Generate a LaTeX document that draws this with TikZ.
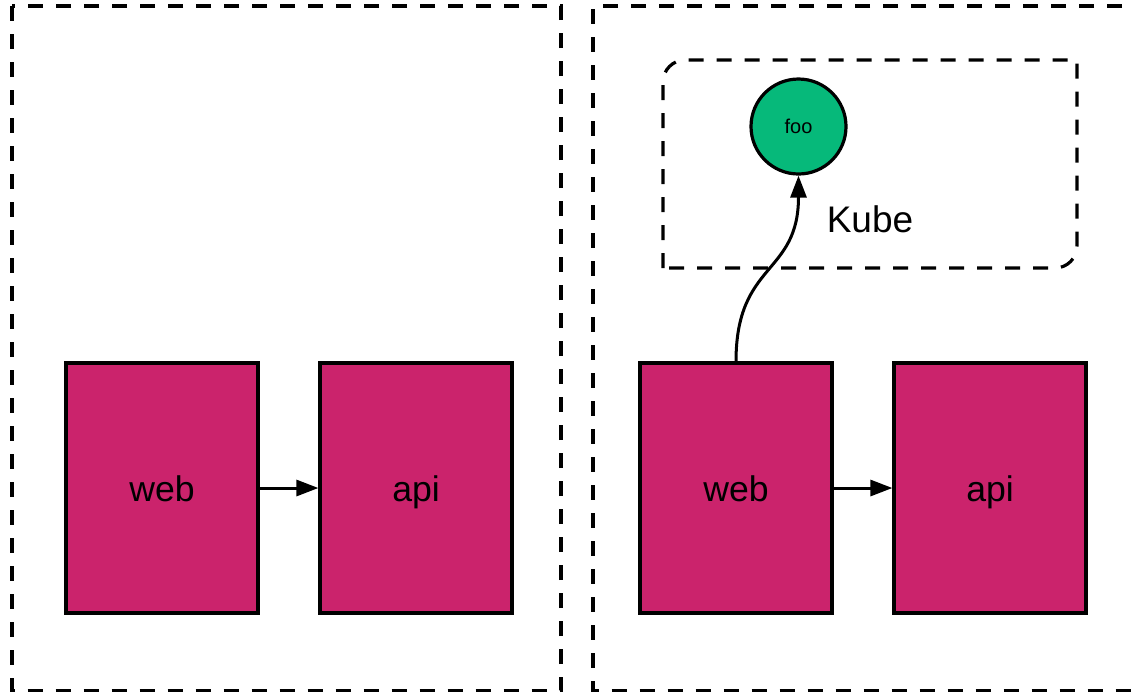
\documentclass[tikz,border=0pt]{standalone}
\usepackage{fontspec}
\setmainfont{Liberation Sans}
\usetikzlibrary{arrows.meta}
\definecolor{svcpink}{HTML}{CB236C}
\definecolor{foogreen}{HTML}{06B97A}
\tikzset{
  dashbox/.style={draw=black, line width=1.6pt, dash pattern=on 7.5pt off 6.5pt},
  svc/.style={draw=black, fill=svcpink, line width=1.6pt, minimum width=96pt, minimum height=125pt, inner sep=0pt, text height=13pt, text depth=0pt, font=\fontsize{17.8}{21}\selectfont},
  conn/.style={line width=1.5pt, -{Triangle[length=11pt,width=8pt]}},
}
\begin{document}
\begin{tikzpicture}[x=0.5pt,y=-0.5pt]
\useasboundingbox (0,0) rectangle (1134,693);
% outer dashed regions
\draw[dashbox] (12,6) rectangle (561,690.5);
\draw[dashbox] (1150,6) -- (593,6) -- (593,690.5) -- (1150,690.5);
% Kube box: rounded at top-left and bottom-right
\draw[dashbox] (663,268) -- (663,82) arc[start angle=180, end angle=90, radius=11pt]
  -- (1077,60) -- (1077,246) arc[start angle=0, end angle=-90, radius=11pt] -- cycle;
\node[font=\fontsize{18.5}{22}\selectfont] (kube) at (870,219) {Kube};
% services
\node[svc] (web1) at (162,488) {web};
\node[svc] (api1) at (416,488) {api};
\node[svc] (web2) at (736,488) {web};
\node[svc] (api2) at (990,488) {api};
% foo
\node[circle, draw=black, fill=foogreen, line width=1.6pt, minimum size=47.5pt, inner sep=0pt, font=\fontsize{10}{12}\selectfont] (foo) at (798.5,126.5) {foo};
% connectors
\draw[conn] (web1.east) -- (api1.west);
\draw[conn] (web2.east) -- (api2.west);
\draw[conn] (web2.north) .. controls +(0,-100) and +(0,100) .. (foo.south);
\end{tikzpicture}
\end{document}
